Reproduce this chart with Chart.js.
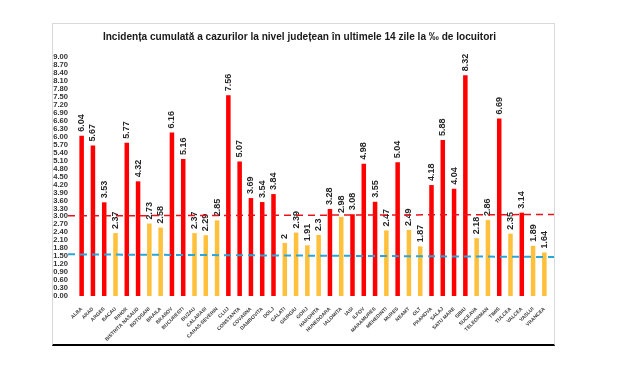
<!DOCTYPE html>
<html>
<head>
<meta charset="utf-8">
<script src="https://cdn.jsdelivr.net/npm/chart.js@4.4.1/dist/chart.umd.min.js"></script>
<style>
    html, body { margin: 0; padding: 0; background: #fff; }
    #wrap { position: relative; width: 620px; height: 367px; }
    #frame { position: absolute; left: 52px; top: 23px; width: 501px; height: 320px;
             border: 1px solid #d9d9d9; border-bottom: 2px solid #000; }
    canvas { position: absolute; left: 0; top: 0; }
</style>
</head>
<body>
<div id="wrap">
    <div id="frame"></div>
    <canvas id="chart" width="620" height="367"></canvas>
</div>
<script>
// ── Data ──
const counties = ['ALBA', 'ARAD', 'ARGES', 'BACAU', 'BIHOR', 'BISTRITA NASAUD', 'BOTOSANI', 'BRAILA',
    'BRASOV', 'BUCURESTI', 'BUZAU', 'CALARASI', 'CARAS-SEVERIN', 'CLUJ', 'CONSTANTA', 'COVASNA',
    'DAMBOVITA', 'DOLJ', 'GALATI', 'GIURGIU', 'GORJ', 'HARGHITA', 'HUNEDOARA', 'IALOMITA', 'IASI',
    'ILFOV', 'MARAMURES', 'MEHEDINTI', 'MURES', 'NEAMT', 'OLT', 'PRAHOVA', 'SALAJ', 'SATU MARE',
    'SIBIU', 'SUCEAVA', 'TELEORMAN', 'TIMIS', 'TULCEA', 'VALCEA', 'VASLUI', 'VRANCEA'];

const incidence = [6.04, 5.67, 3.53, 2.37, 5.77, 4.32, 2.73, 2.58, 6.16, 5.16, 2.37, 2.29, 2.85,
    7.56, 5.07, 3.69, 3.54, 3.84, 2, 2.39, 1.91, 2.3, 3.28, 2.98, 3.08, 4.98, 3.55, 2.47, 5.04,
    2.49, 1.87, 4.18, 5.88, 4.04, 8.32, 2.18, 2.86, 6.69, 2.35, 3.14, 1.89, 1.64];

// threshold lines, value at left end and right end
const redThreshold = [3.02, 3.07];
const blueThreshold = [1.57, 1.47];

const yMin = 0;
const yMax = 9;
const yStep = 0.3;

const RED = '#ff0000';
const YELLOW = '#ffc13b';

// ── Plugins ──
const barLabels = {
    id: 'barLabels',
    afterDatasetsDraw(chart) {
        const ctx = chart.ctx;
        const meta = chart.getDatasetMeta(0);
        ctx.save();
        ctx.font = 'bold 9px "Liberation Sans", Arial, sans-serif';
        ctx.fillStyle = '#262626';
        ctx.textAlign = 'left';
        ctx.textBaseline = 'middle';
        meta.data.forEach((bar, i) => {
            ctx.save();
            ctx.translate(bar.x, bar.y - 4);
            ctx.rotate(-Math.PI / 2);
            ctx.fillText(String(incidence[i]), 0, 0);
            ctx.restore();
        });
        ctx.restore();
    }
};

const thresholdLines = {
    id: 'thresholdLines',
    afterDraw(chart) {
        const ctx = chart.ctx;
        const y = chart.scales.y;
        const left = chart.chartArea.left - 8;
        const right = chart.chartArea.right + 4;
        const draw = (vals, color, width) => {
            ctx.save();
            ctx.strokeStyle = color;
            ctx.lineWidth = width;
            ctx.setLineDash([7, 5]);
            ctx.beginPath();
            ctx.moveTo(left, y.getPixelForValue(vals[0]));
            ctx.lineTo(right, y.getPixelForValue(vals[1]));
            ctx.stroke();
            ctx.restore();
        };
        draw(redThreshold, '#e8141c', 1.5);
        draw(blueThreshold, '#2aa6dc', 2);
    }
};

// ── Chart ──
const ctx = document.getElementById('chart').getContext('2d');
new Chart(ctx, {
    type: 'bar',
    data: {
        labels: counties,
        datasets: [{
            data: incidence,
            backgroundColor: incidence.map(v => v > 3 ? RED : YELLOW),
            barPercentage: 0.8,
            categoryPercentage: 0.5
        }]
    },
    options: {
        responsive: false,
        animation: false,
        layout: { padding: { left: 49, right: 70, bottom: 0 } },
        plugins: {
            legend: { display: false },
            tooltip: { enabled: false },
            title: {
                display: true,
                text: 'Incidența cumulată a cazurilor la nivel județean în ultimele 14 zile la ‰ de locuitori',
                color: '#1a1a1a',
                font: { family: '"Liberation Sans", Arial, sans-serif', size: 10.1, weight: 'bold' },
                padding: { top: 31, bottom: 14 }
            }
        },
        scales: {
            x: {
                grid: { display: false },
                border: { display: false },
                ticks: {
                    autoSkip: false,
                    minRotation: 45,
                    maxRotation: 45,
                    padding: 2,
                    color: '#404040',
                    font: { family: '"Liberation Sans", Arial, sans-serif', size: 5, weight: 'bold' }
                },
                afterFit(scale) { scale.height = 71; }
            },
            y: {
                min: yMin,
                max: yMax,
                grid: { display: false, drawTicks: false },
                border: { display: false },
                ticks: {
                    stepSize: yStep,
                    autoSkip: false,
                    padding: 8,
                    color: '#333',
                    font: { family: '"Liberation Sans", Arial, sans-serif', size: 7.6, weight: 'bold', lineHeight: 1 },
                    callback: v => Number(v).toFixed(2)
                },
                afterFit(scale) { scale.width = 27; }
            }
        }
    },
    plugins: [barLabels, thresholdLines]
});
</script>
</body>
</html>
